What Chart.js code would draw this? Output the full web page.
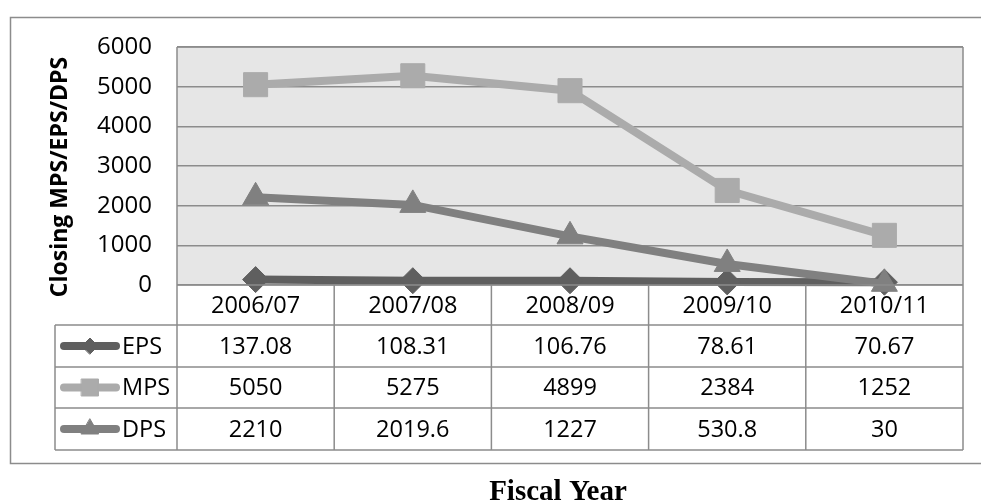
<!DOCTYPE html>
<html>
<head>
<meta charset="utf-8">
<script src="https://cdn.jsdelivr.net/npm/chart.js@4/dist/chart.umd.min.js"></script>
<style>
  html, body { margin: 0; padding: 0; background: #fff; }
  #wrap { width: 981px; height: 500px; }
</style>
</head>
<body>
<div id="wrap"><canvas id="ratioChart" width="981" height="500"></canvas></div>
<script>
const years = ['2006/07', '2007/08', '2008/09', '2009/10', '2010/11'];
const eps = [137.08, 108.31, 106.76, 78.61, 70.67];
const mps = [5050, 5275, 4899, 2384, 1252];
const dps = [2210, 2019.6, 1227, 530.8, 30];
const yTicks = [0, 1000, 2000, 3000, 4000, 5000, 6000];

const FONT = '"Open Sans", "Noto Sans", sans-serif';
const LINE_GREY = '#8c8c8c';

const series = [
    { label: 'EPS', data: eps, color: '#5f5f5f', style: 'rectRot', radius: 13, keyRadius: 8 },
    { label: 'MPS', data: mps, color: '#ababab', style: 'rect', radius: 17, keyRadius: 12 },
    { label: 'DPS', data: dps, color: '#808080', style: 'triangle', radius: 15, keyRadius: 10 },
];

// row heights of the data table under the plot (category row first)
const tableRows = [40, 42, 41, 42];
const tableLeft = 55;

const backdrop = {
    id: 'backdrop',
    beforeDraw(chart) {
        const { ctx, chartArea: a } = chart;
        ctx.save();
        ctx.fillStyle = '#fff';
        ctx.fillRect(0, 0, chart.width, chart.height);
        ctx.strokeStyle = LINE_GREY;
        ctx.lineWidth = 1.5;
        ctx.strokeRect(10.5, 17.5, 980, 446);
        ctx.fillStyle = '#e6e6e6';
        ctx.fillRect(a.left, a.top, a.right - a.left, a.bottom - a.top);
        ctx.restore();
    },
    afterDraw(chart) {
        const { ctx, chartArea: a } = chart;
        const x = chart.scales.x;
        const step = x.getPixelForValue(1) - x.getPixelForValue(0);
        const edges = years.map((_, i) => x.getPixelForValue(i) - step / 2);
        edges.push(x.getPixelForValue(years.length - 1) + step / 2);

        const rowY = [a.bottom];
        tableRows.forEach(h => rowY.push(rowY[rowY.length - 1] + h));
        const bottom = rowY[rowY.length - 1];

        ctx.save();
        ctx.strokeStyle = LINE_GREY;
        ctx.lineWidth = 1.5;
        ctx.beginPath();
        // plot frame and column borders
        ctx.moveTo(a.left, a.top); ctx.lineTo(a.right, a.top);
        edges.forEach((ex, i) => {
            const top = (i === 0 || i === edges.length - 1) ? a.top : a.bottom;
            ctx.moveTo(ex, top); ctx.lineTo(ex, bottom);
        });
        ctx.moveTo(tableLeft, rowY[1]); ctx.lineTo(tableLeft, bottom);
        rowY.forEach((ry, i) => {
            ctx.moveTo(i === 0 ? a.left : tableLeft, ry);
            ctx.lineTo(a.right, ry);
        });
        ctx.stroke();

        ctx.fillStyle = '#000';
        ctx.font = '23.5px ' + FONT;
        ctx.textAlign = 'center';
        ctx.textBaseline = 'middle';
        years.forEach((yr, i) => {
            ctx.fillText(yr, x.getPixelForValue(i), (rowY[0] + rowY[1]) / 2 + 1);
        });

        series.forEach((s, r) => {
            const cy = (rowY[r + 1] + rowY[r + 2]) / 2;
            s.data.forEach((v, i) => {
                ctx.fillStyle = '#000';
                ctx.fillText(String(v), x.getPixelForValue(i), cy + 1);
            });
            // legend key: thick line with its marker
            ctx.strokeStyle = s.color;
            ctx.lineWidth = 8;
            ctx.lineCap = 'round';
            ctx.beginPath();
            ctx.moveTo(64, cy); ctx.lineTo(116, cy);
            ctx.stroke();
            ctx.fillStyle = s.color;
            ctx.lineWidth = 1;
            Chart.helpers.drawPoint(ctx, { pointStyle: s.style, radius: s.keyRadius, rotation: 0, borderWidth: 1 }, 90, cy);
            ctx.fillStyle = '#000';
            ctx.textAlign = 'left';
            ctx.fillText(s.label, 122, cy + 1);
            ctx.textAlign = 'center';
        });

        // axis titles
        ctx.fillStyle = '#000';
        ctx.font = 'bold 23px ' + FONT;
        ctx.save();
        ctx.translate(60, 177);
        ctx.rotate(-Math.PI / 2);
        ctx.fillText('Closing MPS/EPS/DPS', 0, 0);
        ctx.restore();

        ctx.font = 'bold 29px "Liberation Serif", "DejaVu Serif", serif';
        ctx.textBaseline = 'alphabetic';
        ctx.fillText('Fiscal Year', 558, 500);
        ctx.restore();
    }
};

new Chart(document.getElementById('ratioChart'), {
    type: 'line',
    data: {
        labels: years,
        datasets: series.map((s, i) => ({
            label: s.label,
            data: s.data,
            borderColor: s.color,
            backgroundColor: s.color,
            pointBackgroundColor: s.color,
            pointBorderColor: s.color,
            pointStyle: s.style,
            pointRadius: s.radius,
            pointHoverRadius: s.radius,
            pointBorderWidth: 1,
            borderWidth: 8,
            tension: 0,
            clip: false,
            order: series.length - i,
        })),
    },
    options: {
        responsive: false,
        animation: false,
        layout: { padding: { top: 47, right: 13, bottom: 50, left: 0 } },
        plugins: {
            legend: { display: false },
            tooltip: { enabled: false },
        },
        scales: {
            x: {
                type: 'category',
                offset: true,
                grid: { display: false },
                border: { display: false },
                ticks: { display: false },
                afterFit(scale) { scale.height = 165; },
            },
            y: {
                min: yTicks[0],
                max: yTicks[yTicks.length - 1],
                border: { display: false },
                grid: { color: LINE_GREY, lineWidth: 1.5, drawTicks: false },
                afterBuildTicks(scale) { scale.ticks = yTicks.map(v => ({ value: v })); },
                ticks: {
                    color: '#000',
                    padding: 25,
                    font: { family: FONT, size: 24 },
                    callback: v => String(v),
                },
                afterFit(scale) { scale.width = 177; },
            },
        },
    },
    plugins: [backdrop],
});
</script>
</body>
</html>
